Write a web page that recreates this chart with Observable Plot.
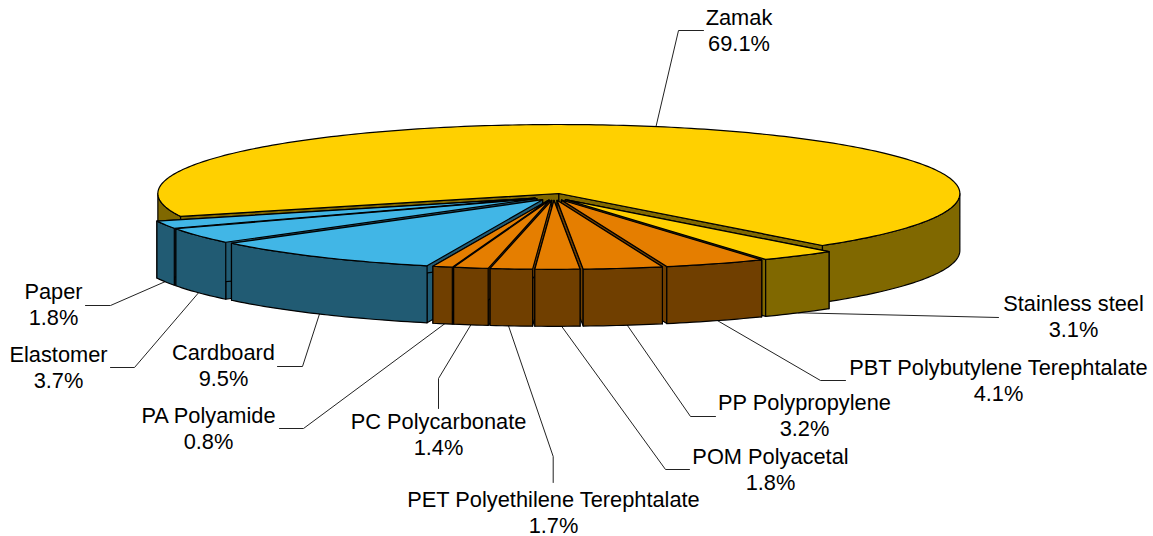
<!DOCTYPE html>
<html>
<head>
<meta charset="utf-8">
<style>html,body{margin:0;padding:0;background:#fff}svg{display:block}</style>
<script src="https://cdn.jsdelivr.net/npm/d3@7"></script>
<script src="https://cdn.jsdelivr.net/npm/@observablehq/plot@0.6"></script>
</head>
<body>
<script>
// Data: pie order, clockwise from the right-hand edge of the Zamak slice
const categories = ["Stainless steel","PBT Polybutylene Terephtalate","PP Polypropylene","POM Polyacetal","PET Polyethilene Terephtalate","PC Polycarbonate","PA Polyamide","Cardboard","Elastomer","Paper","Zamak"];
const shares = [3.1,4.1,3.2,1.8,1.7,1.4,0.8,9.5,3.7,1.8,69.1];
const groups = ["metal","plastic","plastic","plastic","plastic","plastic","plastic","fibre","fibre","fibre","metal"];

// Styles
const topColor = {metal:"#FFD000",plastic:"#E57E00",fibre:"#41B6E6"};
const wallColor = {metal:"#806800",plastic:"#703F00",fibre:"#215B73"};

// Pie projection
const pie = {cx:553.25,cy:196.35,rx:401,ry:69,depth:57,explode:0.05,start:48.9};

// Label layout: label centre, the leader's elbow points, and a small angle nudge of its anchor on the rim
const labelLayout = {
  "Zamak":{at:[738.5,29],elbow:[[678,30],[703,30]],nudge:-0.75},
  "Stainless steel":{at:[1073,315],elbow:[[998,317]],nudge:0},
  "PBT Polybutylene Terephtalate":{at:[998,379],elbow:[[820,380],[845,380]],nudge:-0.3},
  "PP Polypropylene":{at:[804,414],elbow:[[690,416],[715,416]],nudge:-0.6},
  "POM Polyacetal":{at:[770,468],elbow:[[665,469],[689,469]],nudge:-0.6},
  "PET Polyethilene Terephtalate":{at:[553,511],elbow:[[552.7,456],[552.7,482]],nudge:0.4},
  "PC Polycarbonate":{at:[438,433],elbow:[[438,378],[438,408]],nudge:0},
  "PA Polyamide":{at:[208,427],elbow:[[303,428],[279,428]],nudge:-0.3},
  "Cardboard":{at:[223,364],elbow:[[302,366],[277,366]],nudge:0},
  "Elastomer":{at:[58,366],elbow:[[134,367],[110,367]],nudge:0},
  "Paper":{at:[53,303],elbow:[[110,305],[85,305]],nudge:0}
};

const rad = d => d * Math.PI / 180;
const total = d3.sum(shares);
let cum = pie.start;
const slices = categories.map((name,i) => {
  const a = cum, b = cum + shares[i] / total * 360; cum = b;
  const m = (a + b) / 2;
  const px = pie.cx + pie.explode * pie.rx * Math.cos(rad(m));
  const py = pie.cy + pie.explode * pie.ry * Math.sin(rad(m));
  const rim = t => [px + pie.rx * Math.cos(rad(t)), py + pie.ry * Math.sin(rad(t))];
  return {name,i,a,b,m,px,py,rim,group:groups[i],share:shares[i]};
});

function arc(s,from,to){
  const pts=[]; const n=Math.max(1,Math.ceil(Math.abs(to-from)));
  for(let k=0;k<=n;k++) pts.push(s.rim(from+(to-from)*k/n));
  return pts;
}
const polys=[]; let pid=0;
function addPoly(pts,fill){ const id=pid++; pts.forEach(p=>polys.push({x:p[0],y:p[1],id,fill})); }
function down(p){ return [p[0],p[1]+pie.depth]; }
function addSlice(s){
  const wall=wallColor[s.group], top=topColor[s.group], apex=[s.px,s.py];
  for(const t of [s.a,s.b]){ const r=s.rim(t); addPoly([apex,r,down(r),down(apex)],wall); }
  for(const [lo,hi] of [[0,180],[360,540]]){
    const from=Math.max(s.a,lo), to=Math.min(s.b,hi);
    if(from<to){ const up=arc(s,from,to); addPoly([...up,...up.slice().reverse().map(down)],wall); }
  }
  addPoly([apex,...arc(s,s.a,s.b)],top);
}
// Painter's order: furthest from the front first
slices.slice().sort((p,q)=>{
  const d=s=>s.name==="Zamak"?999:Math.abs(s.m-90);
  return d(q)-d(p);
}).forEach(addSlice);

const leaders=[];
const labels=[];
slices.forEach(s=>{
  const lay=labelLayout[s.name];
  const start=s.rim(s.m+lay.nudge);
  const first=s.name==="Zamak"?start:down(start);
  [first,...lay.elbow].forEach(p=>leaders.push({x:p[0],y:p[1],name:s.name}));
  labels.push({x:lay.at[0],y:lay.at[1],text:s.name+"\n"+s.share.toFixed(1)+"%"});
});

const chart=Plot.plot({
  width:1153,height:536,margin:0,
  x:{domain:[0,1153],range:[0,1153],axis:null},
  y:{domain:[0,536],range:[0,536],axis:null},
  marks:[
    Plot.line(leaders,{x:"x",y:"y",z:"name",stroke:"#222",strokeWidth:1,curve:"linear"}),
    Plot.line(polys,{x:"x",y:"y",z:"id",fill:"fill",stroke:"#000",strokeWidth:1.2,curve:"linear-closed"}),
    Plot.text(labels,{x:"x",y:"y",text:"text",fontSize:21.8,lineHeight:1.19,lineAnchor:"middle",textAnchor:"middle",fill:"#000",fontFamily:"'Liberation Sans',Arial,sans-serif"})
  ]
});
document.body.appendChild(chart);
</script>
</body>
</html>
